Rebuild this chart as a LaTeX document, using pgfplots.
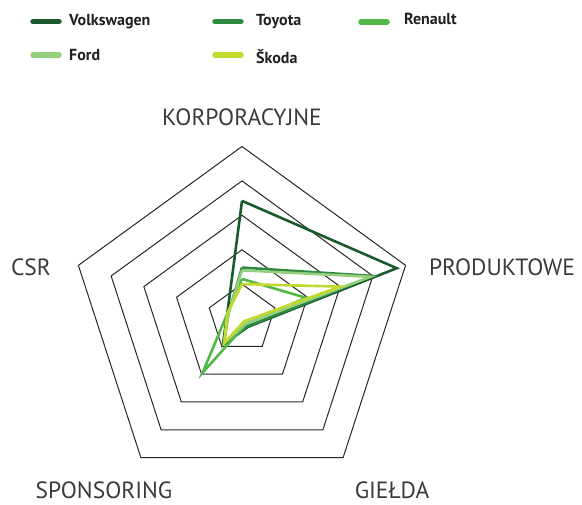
\documentclass[border=0pt]{standalone}
\usepackage{pgfplots}
\pgfplotsset{compat=1.18}
\usepgfplotslibrary{polar}
\usepackage{fontspec}
\setmainfont{PT Sans}
\definecolor{vw}{HTML}{1C5A2E}
\definecolor{toy}{HTML}{2F8A3F}
\definecolor{ren}{HTML}{52B848}
\definecolor{ford}{HTML}{95D07E}
\definecolor{skoda}{HTML}{C4D92E}
\definecolor{txt}{HTML}{231F20}
\definecolor{lbl}{HTML}{3A3A3A}
\begin{document}
\begin{tikzpicture}[x=1pt,y=1pt]
\path[use as bounding box] (0,0) rectangle (582,505);
\begin{polaraxis}[at={(242pt,186.5pt)}, anchor=center, scale only axis,
  width=344pt, height=344pt, xmin=0, xmax=360, ymin=0, ymax=5,
  hide axis, clip=false]
% grid pentagons
\foreach \r in {1,2,3,4,5}{
  \addplot[draw=black!85, line width=1pt, line join=miter, mark=none]
    coordinates {(90,\r) (18,\r) (306,\r) (234,\r) (162,\r) (90,\r)};
}
% data: KORPORACYJNE(90), PRODUKTOWE(18), GIELDA(306), SPONSORING(234), CSR(162)
\addplot[vw, line width=2.6pt, mark=none, line join=miter] coordinates
  {(90,3.42) (18,4.73) (306,0.30) (234,0.95) (162,0.45) (90,3.42)};
\addplot[toy, line width=2.6pt, mark=none, line join=miter] coordinates
  {(90,1.48) (18,4.00) (306,0.28) (234,0.90) (162,0.42) (90,1.48)};
\addplot[ren, line width=2.6pt, mark=none, line join=miter] coordinates
  {(90,1.15) (18,1.95) (306,0.20) (234,1.95) (162,0.45) (90,1.15)};
\addplot[ford, line width=2.6pt, mark=none, line join=miter] coordinates
  {(90,1.40) (18,3.92) (306,0.18) (234,0.88) (162,0.42) (90,1.40)};
\addplot[skoda, line width=2.6pt, mark=none, line join=miter] coordinates
  {(90,1.00) (18,3.00) (306,0.10) (234,0.88) (162,0.45) (90,1.00)};
\end{polaraxis}
% axis labels
\begin{scope}[every node/.style={font=\fontsize{23.5}{26}\selectfont, text=lbl, inner sep=0pt}]
\node at (242,388) {KORPORACYJNE};
\node at (502,238) {PRODUKTOWE};
\node at (392,15) {GIEŁDA};
\node at (104,15) {SPONSORING};
\node at (31,238) {CSR};
\end{scope}
% legend
\begin{scope}[every node/.style={font=\bfseries\fontsize{16}{18}\selectfont, text=txt, inner sep=0pt, anchor=west}]
\draw[vw, line width=5.5pt, line cap=round] (33,483.5)--(59,483.5);
\node at (69,483.5) {Volkswagen};
\draw[toy, line width=5.5pt, line cap=round] (215,483.5)--(241,483.5);
\node at (256,483.5) {Toyota};
\draw[ren, line width=5.5pt, line cap=round] (361,483)--(387,483);
\node at (404,486) {Renault};
\draw[ford, line width=5.5pt, line cap=round] (33,450)--(59,450);
\node at (69,450) {Ford};
\draw[skoda, line width=5.5pt, line cap=round] (215,450)--(241,450);
\node at (256,448) {Škoda};
\end{scope}
\end{tikzpicture}
\end{document}
